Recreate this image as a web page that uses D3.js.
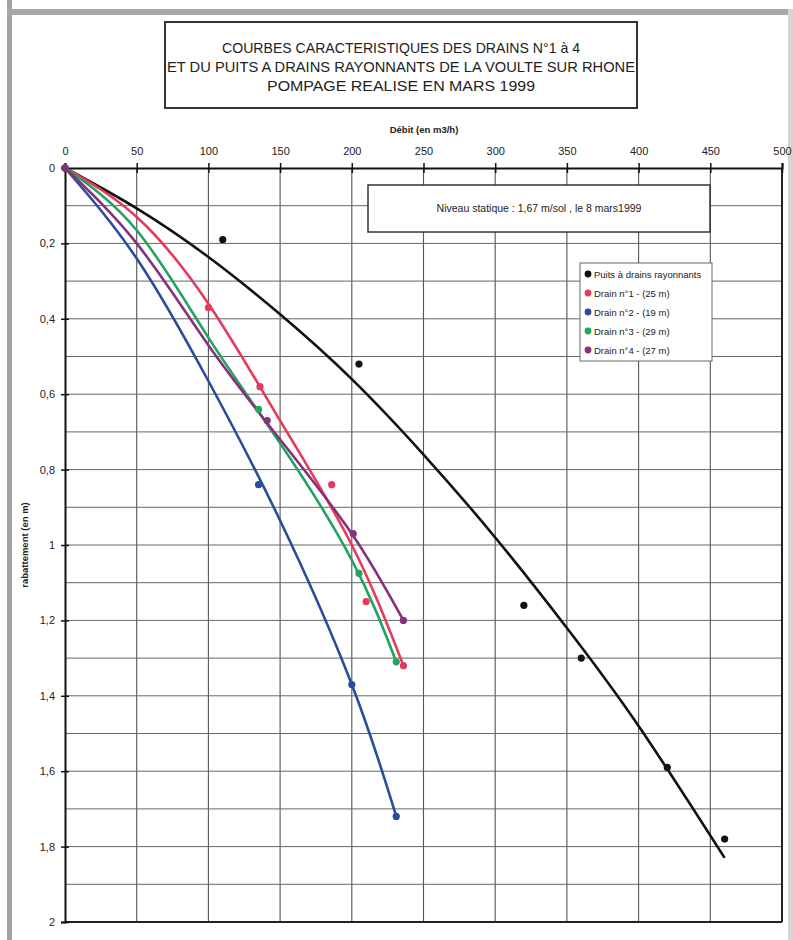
<!DOCTYPE html>
<html>
<head>
<meta charset="utf-8">
<script src="https://cdn.jsdelivr.net/npm/d3@7"></script>
<style>
  body { margin: 0; background: #fff; }
  svg { display: block; }
  text { font-family: "Liberation Sans", Arial, sans-serif; fill: #222; }
</style>
</head>
<body>
<svg width="793" height="940"></svg>
<script>
// ticks
const debitTicks = d3.range(0, 501, 50)
const rabTicks = [0, 0.2, 0.4, 0.6, 0.8, 1, 1.2, 1.4, 1.6, 1.8, 2]
const rabGrid = d3.range(0, 2.01, 0.1)

// measured points (debit m3/h, rabattement m)
const puitsPts  = [[0,0],[110,0.19],[205,0.52],[320,1.16],[360,1.30],[420,1.59],[460,1.78]]
const drain1Pts = [[0,0],[100,0.37],[136,0.58],[186,0.84],[210,1.15],[236,1.32]]
const drain2Pts = [[0,0],[135,0.84],[200,1.37],[231,1.72]]
const drain3Pts = [[0,0],[135,0.64],[205,1.075],[231,1.31]]
const drain4Pts = [[0,0],[141,0.67],[201,0.97],[236,1.20]]

// trend curves
const puitsCurve  = [[0,0],[50,0.107],[100,0.236],[150,0.388],[200,0.56],[250,0.76],[300,0.98],[350,1.22],[400,1.48],[460,1.83]]
const drain1Curve = [[0,0],[50,0.13],[100,0.36],[150,0.67],[200,1.0],[236,1.32]]
const drain2Curve = [[0,0],[50,0.24],[100,0.565],[150,0.935],[200,1.37],[231,1.72]]
const drain3Curve = [[0,0],[50,0.165],[100,0.45],[150,0.73],[200,1.04],[231,1.31]]
const drain4Curve = [[0,0],[50,0.2],[100,0.47],[150,0.72],[200,0.97],[236,1.2]]

const seriesNames = ["Puits à drains rayonnants", "Drain n°1 - (25 m)", "Drain n°2 - (19 m)", "Drain n°3 - (29 m)", "Drain n°4 - (27 m)"]
const seriesColors = ["#111111", "#e6395c", "#2b4b9d", "#21a45e", "#87307c"]
const seriesPts = [puitsPts, drain1Pts, drain2Pts, drain3Pts, drain4Pts]
const seriesCurves = [puitsCurve, drain1Curve, drain2Curve, drain3Curve, drain4Curve]

const titleLines = ["COURBES CARACTERISTIQUES DES DRAINS N°1 à 4",
                    "ET DU PUITS A DRAINS RAYONNANTS DE LA VOULTE SUR RHONE",
                    "POMPAGE REALISE EN MARS 1999"]

const svg = d3.select("svg")
const x = d3.scaleLinear().domain([0, 500]).range([65, 782])
const y = d3.scaleLinear().domain([0, 2]).range([168, 922])
const fmt = d => String(d).replace(".", ",")

// page frame (scan border)
svg.append("rect").attr("x", 7).attr("y", 0).attr("width", 5).attr("height", 940).attr("fill", "#a3a3a3")
svg.append("rect").attr("x", 7).attr("y", 9).attr("width", 786).attr("height", 6).attr("fill", "#a8a8a8")
svg.append("rect").attr("x", 788).attr("y", 9).attr("width", 5).attr("height", 931).attr("fill", "#d4d4d4")

// title box
svg.append("rect").attr("x", 165).attr("y", 22).attr("width", 472).attr("height", 86)
   .attr("fill", "#fff").attr("stroke", "#333").attr("stroke-width", 2)
svg.selectAll("text.title").data(titleLines).join("text")
   .attr("class", "title")
   .attr("x", 401).attr("y", (d, i) => 53 + i * 19)
   .attr("text-anchor", "middle")
   .style("font-size", "15px").attr("fill", "#333")
   .attr("textLength", (d, i) => [358, 468, 268][i])
   .attr("lengthAdjust", "spacingAndGlyphs")
   .text(d => d)

// grid
const grid = svg.append("g")
grid.selectAll("line.v").data(debitTicks.slice(1, -1)).join("line")
    .attr("x1", d => x(d)).attr("x2", d => x(d))
    .attr("y1", y(0)).attr("y2", y(2))
    .attr("stroke", "#555").attr("stroke-width", 1.1)
grid.selectAll("line.h").data(rabGrid.slice(1, -1)).join("line")
    .attr("x1", x(0)).attr("x2", x(500))
    .attr("y1", d => y(d)).attr("y2", d => y(d))
    .attr("stroke", "#666").attr("stroke-width", 1)

// plot frame
svg.append("line").attr("x1", x(500)).attr("x2", x(500)).attr("y1", y(0)).attr("y2", y(2))
   .attr("stroke", "#222").attr("stroke-width", 2)
svg.append("line").attr("x1", x(0)).attr("x2", x(500)).attr("y1", y(2)).attr("y2", y(2))
   .attr("stroke", "#222").attr("stroke-width", 2)

// axes
const xAxis = svg.append("g").attr("transform", `translate(0,${y(0)})`)
    .call(d3.axisTop(x).tickValues(debitTicks).tickSize(5).tickPadding(8))
xAxis.select(".domain").attr("stroke", "#111").attr("stroke-width", 2)
xAxis.selectAll(".tick line").attr("y2", -5).attr("y1", 5).attr("stroke", "#111").attr("stroke-width", 1.5)
xAxis.selectAll(".tick text").style("font-size", "11px").style("font-family", "Liberation Sans, Arial").attr("fill", "#333")

const yAxis = svg.append("g").attr("transform", `translate(${x(0)},0)`)
    .call(d3.axisLeft(y).tickValues(rabTicks).tickFormat(fmt).tickSize(4).tickPadding(6))
yAxis.select(".domain").attr("stroke", "#111").attr("stroke-width", 2)
yAxis.selectAll(".tick line").attr("x1", 4).attr("x2", -4).attr("stroke", "#111").attr("stroke-width", 1.5)
yAxis.selectAll(".tick text").style("font-size", "11px").style("font-family", "Liberation Sans, Arial").attr("fill", "#333")

svg.append("text").attr("x", 424).attr("y", 133).attr("text-anchor", "middle")
   .style("font-size", "9.5px").style("font-weight", "bold").text("Débit (en m3/h)")
svg.append("text").attr("transform", "translate(28,545) rotate(-90)").attr("text-anchor", "middle")
   .style("font-size", "9.5px").style("font-weight", "bold").text("rabattement (en m)")

// niveau statique box
svg.append("rect").attr("x", 368).attr("y", 185).attr("width", 342).attr("height", 47)
   .attr("fill", "#fff").attr("stroke", "#333").attr("stroke-width", 1.5)
svg.append("text").attr("x", 539).attr("y", 212).attr("text-anchor", "middle")
   .style("font-size", "10.5px").attr("fill", "#333")
   .text("Niveau statique : 1,67 m/sol , le 8 mars1999")

// curves
const line = d3.line().x(d => x(d[0])).y(d => y(d[1])).curve(d3.curveNatural)
svg.append("g").selectAll("path").data(seriesCurves).join("path")
   .attr("d", line).attr("fill", "none")
   .attr("stroke", (d, i) => seriesColors[i]).attr("stroke-width", 2.6)

// markers
seriesPts.forEach((pts, i) => {
  svg.append("g").selectAll("circle").data(pts).join("circle")
     .attr("cx", d => x(d[0])).attr("cy", d => y(d[1])).attr("r", 3.6)
     .attr("fill", seriesColors[i])
})

// legend
const leg = svg.append("g").attr("transform", "translate(580,263)")
leg.append("rect").attr("width", 132).attr("height", 98)
   .attr("fill", "#fff").attr("stroke", "#666").attr("stroke-width", 1)
const items = leg.selectAll("g").data(seriesNames).join("g")
   .attr("transform", (d, i) => `translate(8,${11 + i * 19})`)
items.append("circle").attr("r", 3.4).attr("fill", (d, i) => seriesColors[i])
items.append("text").attr("x", 6).attr("y", 3.5).style("font-size", "9.5px").text(d => d)
</script>
</body>
</html>
